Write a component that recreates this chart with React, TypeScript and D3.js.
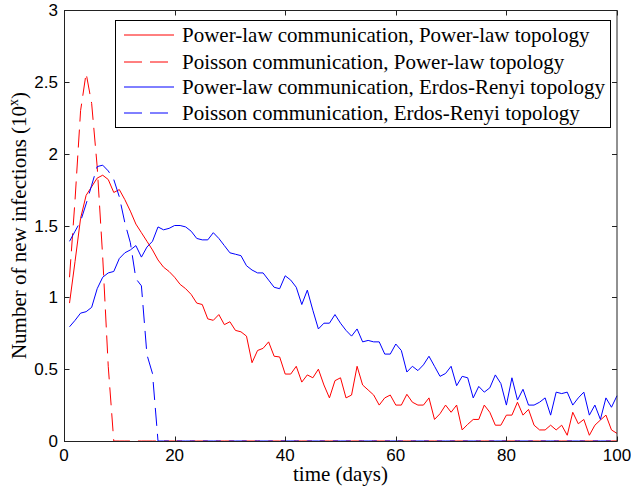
import React from "react";
import * as d3 from "d3";

const days: number[] = d3.range(1, 101);

const plawPlaw: number[] = [
  0.96, 1.25, 1.55, 1.71, 1.77, 1.83, 1.85, 1.82, 1.73, 1.75,
  1.68, 1.6, 1.51, 1.45, 1.39, 1.33, 1.26, 1.21, 1.18, 1.14,
  1.09, 1.06, 1.02, 0.96, 0.95, 0.85, 0.84, 0.88, 0.81, 0.83,
  0.77, 0.76, 0.73, 0.545, 0.63, 0.645, 0.69, 0.59, 0.585, 0.466,
  0.466, 0.52, 0.41, 0.46, 0.44, 0.5, 0.39, 0.3, 0.42, 0.44,
  0.3, 0.32, 0.52, 0.39, 0.355, 0.32, 0.25, 0.3, 0.32, 0.25,
  0.25, 0.325, 0.27, 0.25, 0.25, 0.3, 0.15, 0.19, 0.25, 0.2,
  0.25, 0.077, 0.116, 0.15, 0.15, 0.25, 0.2, 0.11, 0.11, 0.18,
  0.18, 0.27, 0.18, 0.22, 0.11, 0.077, 0.077, 0.11, 0.077, 0.11,
  0.04, 0.2, 0.12, 0.15, 0.04, 0.11, 0.146, 0.18, 0.077, 0.053,
];

const poissonPlaw: number[] = [
  1.14, 1.68, 2.3, 2.56, 2.35, 1.91, 1.28, 0.52, 0, 0,
  0, 0, 0, 0, 0, 0, 0, 0, 0, 0,
  0, 0, 0, 0, 0, 0, 0, 0, 0, 0,
  0, 0, 0, 0, 0, 0, 0, 0, 0, 0,
  0, 0, 0, 0, 0, 0, 0, 0, 0, 0,
  0, 0, 0, 0, 0, 0, 0, 0, 0, 0,
  0, 0, 0, 0, 0, 0, 0, 0, 0, 0,
  0, 0, 0, 0, 0, 0, 0, 0, 0, 0,
  0, 0, 0, 0, 0, 0, 0, 0, 0, 0,
  0, 0, 0, 0, 0, 0, 0, 0, 0, 0,
];

const plawER: number[] = [
  0.795, 0.84, 0.89, 0.9, 0.93, 1.06, 1.14, 1.17, 1.18, 1.27,
  1.31, 1.33, 1.36, 1.28, 1.35, 1.39, 1.49, 1.47, 1.48, 1.5,
  1.5, 1.49, 1.46, 1.41, 1.4, 1.4, 1.45, 1.41, 1.36, 1.31,
  1.3, 1.29, 1.22, 1.19, 1.17, 1.17, 1.12, 1.07, 1.06, 1.15,
  1.12, 1.07, 0.95, 1.05, 0.91, 0.78, 0.82, 0.82, 0.88, 0.82,
  0.77, 0.73, 0.78, 0.69, 0.7, 0.69, 0.69, 0.605, 0.605, 0.675,
  0.63, 0.48, 0.52, 0.49, 0.53, 0.59, 0.52, 0.45, 0.47, 0.52,
  0.385, 0.45, 0.44, 0.3, 0.38, 0.34, 0.37, 0.46, 0.4, 0.25,
  0.44, 0.285, 0.36, 0.25, 0.25, 0.27, 0.3, 0.18, 0.34, 0.33,
  0.34, 0.25, 0.3, 0.34, 0.18, 0.25, 0.15, 0.3, 0.235, 0.315,
];

const poissonER: number[] = [
  1.39, 1.46, 1.53, 1.65, 1.78, 1.91, 1.92, 1.88, 1.82, 1.7,
  1.52, 1.38, 1.13, 1.08, 0.6, 0.47, 0, 0, 0, 0,
  0, 0, 0, 0, 0, 0, 0, 0, 0, 0,
  0, 0, 0, 0, 0, 0, 0, 0, 0, 0,
  0, 0, 0, 0, 0, 0, 0, 0, 0, 0,
  0, 0, 0, 0, 0, 0, 0, 0, 0, 0,
  0, 0, 0, 0, 0, 0, 0, 0, 0, 0,
  0, 0, 0, 0, 0, 0, 0, 0, 0, 0,
  0, 0, 0, 0, 0, 0, 0, 0, 0, 0,
  0, 0, 0, 0, 0, 0, 0, 0, 0, 0,
];

const seriesNames: string[] = [
  "Power-law communication, Power-law topology",
  "Poisson communication, Power-law topology",
  "Power-law communication, Erdos-Renyi topology",
  "Poisson communication, Erdos-Renyi topology",
];

const xTicks: number[] = [0, 20, 40, 60, 80, 100];
const yTicks: number[] = [0, 0.5, 1, 1.5, 2, 2.5, 3];

const W = 631;
const H = 494;
const L = 64;
const R = 617;
const T = 10;
const B = 441;

export default function App() {
  const x = d3.scaleLinear().domain([0, 100]).range([L, R]);
  const y = d3.scaleLinear().domain([0, 3]).range([B, T]);
  const line = d3
    .line<[number, number]>()
    .x((d) => x(d[0]))
    .y((d) => y(d[1]));

  const series = [
    { values: plawPlaw, color: "#ff0000", dash: undefined as string | undefined },
    { values: poissonPlaw, color: "#ff0000", dash: "18,8" },
    { values: plawER, color: "#0000ff", dash: undefined },
    { values: poissonER, color: "#0000ff", dash: "18,8" },
  ];

  const serif = "'Liberation Serif', 'Times New Roman', serif";
  const sans = "'Liberation Sans', Arial, sans-serif";
  const tickLen = 5;

  const legX = 115.5;
  const legY = 20.5;
  const legW = 495;
  const legH = 107;
  const rowYs = [35, 62, 87, 113];

  return (
    <svg
      width={W}
      height={H}
      style={{ position: "absolute", left: 0, top: 0, background: "#fff" }}
    >
      <rect x={0} y={0} width={W} height={H} fill="#fff" />
      {series.map((s, i) => (
        <path
          key={i}
          d={line(days.map((d, j) => [d, s.values[j]] as [number, number])) || ""}
          fill="none"
          stroke={s.color}
          strokeWidth={1}
          strokeDasharray={s.dash}
        />
      ))}
      {/* axes box */}
      <rect
        x={L + 0.5}
        y={T + 0.5}
        width={R - L - 0.5}
        height={B - T}
        fill="none"
        stroke="#222"
        strokeWidth={1}
      />
      {xTicks.map((t) => (
        <g key={"xt" + t}>
          <line x1={Math.round(x(t)) + 0.5} x2={Math.round(x(t)) + 0.5} y1={B + 0.5} y2={B + 0.5 - tickLen} stroke="#222" />
          <line x1={Math.round(x(t)) + 0.5} x2={Math.round(x(t)) + 0.5} y1={T + 0.5} y2={T + 0.5 + tickLen} stroke="#222" />
          <text
            x={x(t)}
            y={B + 20}
            textAnchor="middle"
            fontFamily={sans}
            fontSize={17}
            fill="#000"
          >
            {t}
          </text>
        </g>
      ))}
      {yTicks.map((t) => (
        <g key={"yt" + t}>
          <line x1={L + 0.5} x2={L + 0.5 + tickLen} y1={Math.round(y(t)) + 0.5} y2={Math.round(y(t)) + 0.5} stroke="#222" />
          <line x1={R} x2={R - tickLen} y1={Math.round(y(t)) + 0.5} y2={Math.round(y(t)) + 0.5} stroke="#222" />
          <text
            x={L - 6}
            y={y(t) + 6}
            textAnchor="end"
            fontFamily={sans}
            fontSize={17}
            fill="#000"
          >
            {t}
          </text>
        </g>
      ))}
      {/* axis labels */}
      <text
        x={(L + R) / 2}
        y={481}
        textAnchor="middle"
        fontFamily={serif}
        fontSize={21}
        fill="#000"
      >
        time (days)
      </text>
      <text
        transform={`translate(26, ${(T + B) / 2}) rotate(-90)`}
        textAnchor="middle"
        fontFamily={serif}
        fontSize={21}
        fill="#000"
      >
        Number of new infections (10
        <tspan dy={-8} fontSize={14}>x</tspan>
        <tspan dy={8}>)</tspan>
      </text>
      {/* legend */}
      <rect x={legX} y={legY} width={legW} height={legH} fill="#fff" stroke="#000" strokeWidth={1} />
      {series.map((s, i) => (
        <g key={"lg" + i}>
          <line
            x1={124}
            x2={174}
            y1={rowYs[i]}
            y2={rowYs[i]}
            stroke={s.color}
            strokeWidth={1}
            strokeDasharray={s.dash}
          />
          <text x={182} y={rowYs[i] + 7} fontFamily={serif} fontSize={21} fill="#000">
            {seriesNames[i]}
          </text>
        </g>
      ))}
    </svg>
  );
}
